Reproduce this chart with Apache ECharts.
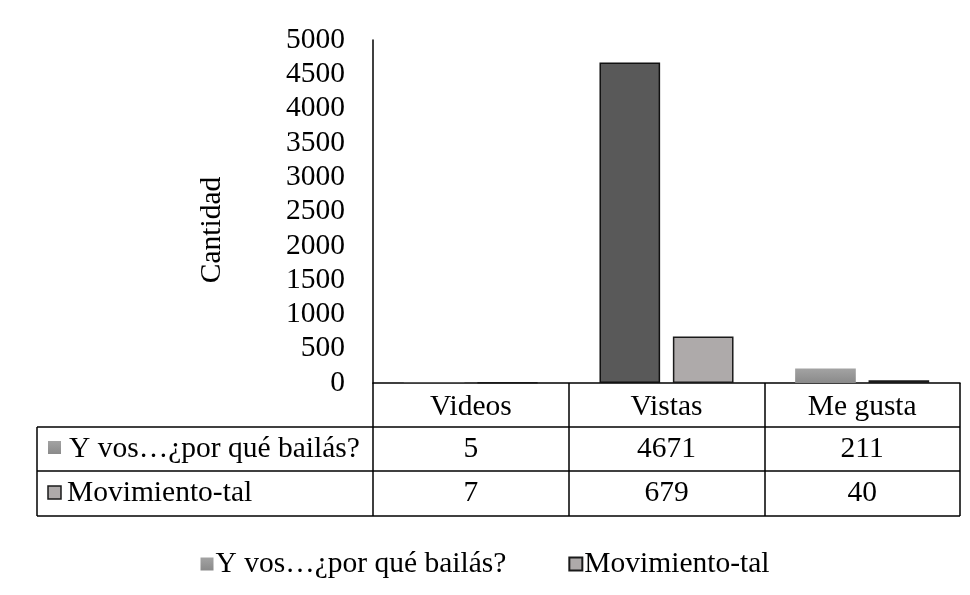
<!DOCTYPE html>
<html lang="es">
<head>
<meta charset="UTF-8">
<title>Cantidad</title>
<script src="https://cdn.jsdelivr.net/npm/echarts@6/dist/echarts.min.js"></script>
</head>
<body style="margin:0;background:#fff">
<div id="main" style="width:970px;height:595px;"></div>
<script>
// datos
var categorias = ['Videos', 'Vistas', 'Me gusta'];
var nombres = ['Y vos…¿por qué bailás?', 'Movimiento-tal'];
var yvos = [5, 4671, 211];
var movimiento = [7, 679, 40];
var yMin = 0, yMax = 5000, yPaso = 500;

var fuente = 'Liberation Serif';
var fs = 29.5;
var gL = 373, gR = 960, gTop = 40, gBase = 383;
var filas = [427, 471, 516];
var tablaIzq = 37;

var grisDegradado = new echarts.graphic.LinearGradient(0, 0, 0, 1, [
	{offset: 0, color: '#a3a3a3'},
	{offset: 1, color: '#8a8a8a'}
]);

// la barra de "Vistas" de la primera serie va en gris oscuro con borde
var datosYvos = yvos.map(function (v, i) {
	if (i == 1) {
		return {value: v, itemStyle: {color: '#595959', borderColor: '#111', borderWidth: 1.5}};
	}
	return v;
});

function ejeFila(valores, offset) {
	return {
		type: 'category',
		gridIndex: 0,
		position: 'bottom',
		offset: offset,
		data: valores.map(String),
		axisLine: {show: false},
		axisTick: {show: false},
		axisLabel: {color: '#000', fontFamily: fuente, fontSize: fs, margin: 8}
	};
}

var lineas = [];
filas.forEach(function (y) {
	lineas.push({type: 'line', shape: {x1: tablaIzq, y1: y, x2: gR, y2: y}, style: {stroke: '#000', lineWidth: 1.5}});
});
lineas.push({type: 'line', shape: {x1: tablaIzq, y1: filas[0], x2: tablaIzq, y2: filas[2]}, style: {stroke: '#000', lineWidth: 1.5}});

var myChart = echarts.init(document.getElementById('main'));
myChart.setOption({
	animation: false,
	backgroundColor: '#fff',
	grid: {left: gL, right: 970 - gR, top: gTop, bottom: 595 - gBase},
	legend: {
		data: nombres,
		left: 'center',
		top: 544,
		icon: 'rect',
		itemWidth: 13,
		itemHeight: 13,
		itemGap: 62,
		textStyle: {color: '#000', fontFamily: fuente, fontSize: fs, padding: [0, 0, 0, -3]}
	},
	xAxis: [
		{
			type: 'category',
			data: categorias,
			axisLine: {lineStyle: {color: '#000', width: 1.5}},
			axisTick: {show: true, length: filas[2] - gBase, lineStyle: {color: '#000', width: 1.5}},
			axisLabel: {color: '#000', fontFamily: fuente, fontSize: fs, margin: 9}
		},
		ejeFila(yvos, 43),
		ejeFila(movimiento, 87)
	],
	yAxis: {
		type: 'value',
		min: yMin,
		max: yMax,
		interval: yPaso,
		splitLine: {show: false},
		axisLine: {show: true, lineStyle: {color: '#000', width: 1.5}},
		axisTick: {show: false},
		axisLabel: {
			color: '#000', fontFamily: fuente, fontSize: fs, margin: 28,
			formatter: function (v) { return String(v); }
		}
	},
	series: [
		{
			name: nombres[0],
			type: 'bar',
			barWidth: '31%',
			barGap: '21%',
			itemStyle: {color: grisDegradado},
			data: datosYvos
		},
		{
			name: nombres[1],
			type: 'bar',
			barWidth: '31%',
			itemStyle: {color: '#aeaaaa', borderColor: '#1a1a1a', borderWidth: 1.5},
			data: movimiento
		}
	],
	graphic: lineas.concat([
		{
			type: 'text', x: 212, y: 230, rotation: Math.PI / 2,
			style: {text: 'Cantidad', font: fs + 'px "' + fuente + '"', fill: '#000', align: 'center', verticalAlign: 'middle'}
		},
		{type: 'rect', shape: {x: 48, y: 441, width: 13, height: 13}, style: {fill: grisDegradado}},
		{
			type: 'text', x: 69, y: 449,
			style: {text: nombres[0], font: fs + 'px "' + fuente + '"', fill: '#000', align: 'left', verticalAlign: 'middle'}
		},
		{type: 'rect', shape: {x: 48, y: 486, width: 13, height: 13}, style: {fill: '#aeaaaa', stroke: '#1a1a1a', lineWidth: 1.5}},
		{
			type: 'text', x: 67, y: 493,
			style: {text: nombres[1], font: fs + 'px "' + fuente + '"', fill: '#000', align: 'left', verticalAlign: 'middle'}
		}
	])
});
</script>
</body>
</html>
